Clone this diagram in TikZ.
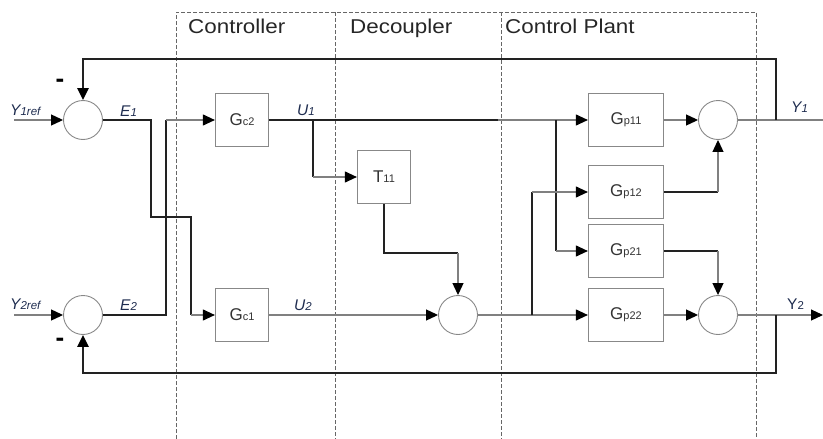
\documentclass[tikz,border=0pt]{standalone}
\usepackage{fontspec}
\setmainfont{Liberation Sans}
\newfontfamily\titlefont[FakeStretch=1.12]{Liberation Sans}
\usepackage{xcolor}
\usetikzlibrary{arrows.meta, positioning}
\definecolor{wire}{HTML}{222222}
\definecolor{thinwire}{HTML}{808080}
\definecolor{frame}{HTML}{888888}
\definecolor{sig}{HTML}{1E2C4F}
\newcommand{\blklabel}[2]{{\fontsize{17}{17}\selectfont #1}{\fontsize{11}{11}\selectfont #2}}
\newcommand{\siglabel}[2]{\textit{{\fontsize{15.5}{15.5}\selectfont #1}{\fontsize{11.5}{11.5}\selectfont #2}}}

\begin{document}
\begin{tikzpicture}[x=1pt, y=-1pt,
    sum/.style={draw=frame, line width=0.9pt, circle, minimum size=39pt, inner sep=0pt},
    cblk/.style={draw=frame, line width=1.2pt, minimum width=53pt, minimum height=53pt, inner sep=0pt, text=black!80},
    pblk/.style={cblk, minimum width=75pt},
    thk/.style={draw=wire, line width=2.6pt},
    thn/.style={draw=thinwire, line width=1.1pt},
    sgn/.style={-{Triangle[length=12pt,width=11pt,color=black]}},
    region/.style={draw=black!60, line width=0.8pt, dash pattern=on 4pt off 2pt},
    title/.style={font=\titlefont\fontsize{20}{20}\selectfont, text=black!85, anchor=base west, inner sep=0pt},
    lbl/.style={text=sig, anchor=base west, inner sep=0pt},
    minus/.style={font=\bfseries\fontsize{26}{26}\selectfont, inner sep=0pt}]

    \useasboundingbox (0,0) rectangle (823,439);

    % Regions
    \draw[region] (176,439) |- (756,12) -- (756,439);
    \draw[region] (335,12) -- (335,439);
    \draw[region] (501,12) -- (501,439);
    \node[title] (tctrl) at (188,33) {Controller};
    \node[title] (tdec) at (350,33) {Decoupler};
    \node[title] (tplant) at (505,33) {Control Plant};

    % Summing points
    \node[sum] (s1) at (83,120) {};
    \node[sum] (s2) at (83,315) {};
    \node[sum] (s3) at (458,315) {};
    \node[sum] (s4) at (718,120) {};
    \node[sum] (s5) at (718,315) {};

    % Controller and decoupler blocks
    \node[cblk] (gc2) at (242,120) {\blklabel{G}{c2}};
    \node[cblk] (gc1) at (242,315) {\blklabel{G}{c1}};
    \node[cblk] (t11) at (384,177) {\blklabel{T}{11}};

    % Plant blocks
    \node[pblk] (gp11) at (626,120) {\blklabel{G}{p11}};
    \node[pblk] (gp12) at (626,192) {\blklabel{G}{p12}};
    \node[pblk] (gp21) at (626,251) {\blklabel{G}{p21}};
    \node[pblk] (gp22) at (626,315) {\blklabel{G}{p22}};

    % Reference inputs
    \coordinate (y1in) at (14,120);
    \coordinate (y2in) at (14,315);
    \draw[thn,sgn] (y1in) -- (s1.west);
    \draw[thn,sgn] (y2in) -- (s2.west);

    % E1 to lower controller
    \coordinate (e1a) at (151,217);
    \coordinate (e1b) at (191,217);
    \coordinate (e1c) at (191,315);
    \draw[thk] (s1.east) -| (e1a) -- (e1b) -- (e1c);
    \draw[thn,sgn] (e1c) -- (gc1.west);

    % E2 to upper controller
    \coordinate (e2a) at (166,120);
    \draw[thk] (s2.east) -| (e2a);
    \draw[thn,sgn] (e2a) -- (gc2.west);

    % U1 and its branches
    \coordinate (u1a) at (313,120);
    \coordinate (u1t) at (313,177);
    \coordinate (u1b) at (498,120);
    \coordinate (u1c) at (556,120);
    \coordinate (u1d) at (556,251);
    \draw[thk] (gc2.east) -- (u1b);
    \draw[thn,sgn] (u1b) -- (gp11.west);
    \draw[thk] (u1a) -- (u1t);
    \draw[thn,sgn] (u1t) -- (t11.west);
    \draw[thk] (u1c) -- (u1d);
    \draw[thn,sgn] (u1d) -- (gp21.west);

    % Decoupler path
    \coordinate (tk) at (458,253);
    \draw[thk] (t11.south) |- (tk);
    \draw[thn,sgn] (tk) -- (s3.north);
    \draw[thn,sgn] (gc1.east) -- (s3.west);

    % Decoupled U2 and its branch
    \coordinate (d2) at (532,315);
    \coordinate (d2up) at (532,192);
    \draw[thn,sgn] (s3.east) -- (gp22.west);
    \draw[thk] (d2) -- (d2up);
    \draw[thn,sgn] (d2up) -- (gp12.west);

    % Plant outputs
    \coordinate (p12) at (718,192);
    \coordinate (p21) at (718,251);
    \draw[thn,sgn] (gp11.east) -- (s4.west);
    \draw[thn,sgn] (gp22.east) -- (s5.west);
    \draw[thk] (gp12.east) -- (p12);
    \draw[thn,sgn] (p12) -- (s4.south);
    \draw[thk] (gp21.east) -- (p21);
    \draw[thn,sgn] (p21) -- (s5.north);

    % Outputs and feedback
    \coordinate (y1out) at (823,120);
    \coordinate (y2out) at (823,315);
    \coordinate (f1) at (776,120);
    \coordinate (f1top) at (776,59);
    \coordinate (f2) at (776,315);
    \coordinate (f2bot) at (776,373);
    \draw[thn] (s4.east) -- (y1out);
    \draw[thn,sgn] (s5.east) -- (y2out);
    \draw[thk,sgn] (f1) -- (f1top) -| (s1.north);
    \draw[thk,sgn] (f2) -- (f2bot) -| (s2.south);

    % Signs
    \node[minus] (m1) at (60,83) {-};
    \node[minus] (m2) at (60,342) {-};

    % Signal labels
    \node[lbl] (ly1r) at (10,115) {\siglabel{Y}{1ref}};
    \node[lbl] (ly2r) at (10,309) {\siglabel{Y}{2ref}};
    \node[lbl] (le1) at (120,116) {\siglabel{E}{1}};
    \node[lbl] (le2) at (120,310) {\siglabel{E}{2}};
    \node[lbl] (lu1) at (297,115) {\siglabel{U}{1}};
    \node[lbl] (lu2) at (294,310) {\siglabel{U}{2}};
    \node[lbl] (ly1) at (791,112) {\siglabel{Y}{1}};
    \node[lbl] (ly2) at (787,309) {{\fontsize{15.5}{15.5}\selectfont Y}{\fontsize{11.5}{11.5}\selectfont 2}};
\end{tikzpicture}
\end{document}
